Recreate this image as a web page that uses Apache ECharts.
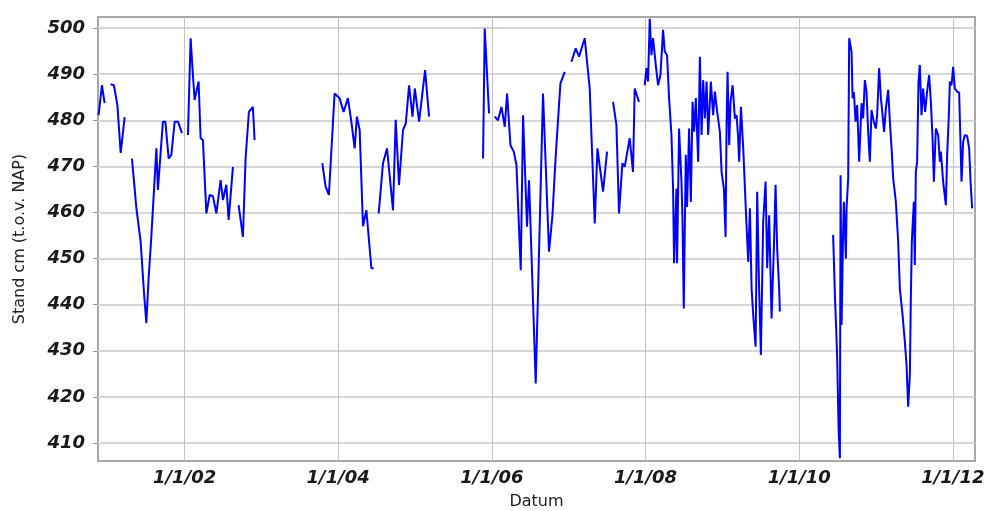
<!DOCTYPE html>
<html>
<head>
<meta charset="utf-8">
<script src="https://cdn.jsdelivr.net/npm/echarts@6/dist/echarts.min.js"></script>
<style>
  html, body { margin: 0; padding: 0; background: #fff; }
  #chart { width: 990px; height: 511px; }
</style>
</head>
<body>
<div id="chart"></div>
<script>
// datum als decimaal jaar, null = onderbreking in de reeks
const jaar = [
  2000.880, 2000.923, 2000.958, null,
  2001.036, 2001.079, 2001.124, 2001.167, 2001.219, null,
  2001.314, 2001.371, 2001.427, 2001.470, 2001.501, 2001.531, 2001.566, 2001.587, 2001.632, 2001.652,
  2001.717, 2001.749, 2001.792, 2001.827, 2001.870, 2001.913, 2001.965, null,
  2002.043, 2002.078, 2002.108, 2002.130, 2002.182, 2002.208, 2002.238, 2002.283, 2002.326, 2002.368,
  2002.413, 2002.469, 2002.499, 2002.543, 2002.573, 2002.629, null,
  2002.703, 2002.759, 2002.794, 2002.837, 2002.889, 2002.911, null,
  2003.793, 2003.836, 2003.879, 2003.953, 2004.018, 2004.070, 2004.126, 2004.171, 2004.214, 2004.243,
  2004.279, 2004.322, 2004.366, 2004.431, 2004.461, null,
  2004.526, 2004.582, 2004.634, 2004.712, 2004.747, 2004.790, 2004.842, 2004.878, 2004.921, 2004.965,
  2004.995, 2005.051, 2005.129, 2005.181, null,
  2005.884, 2005.906, 2005.962, null,
  2006.036, 2006.079, 2006.124, 2006.167, 2006.197, 2006.241, 2006.284, 2006.319, 2006.375, 2006.405,
  2006.457, 2006.483, 2006.570, 2006.665, 2006.743, 2006.788, 2006.831, 2006.892, 2006.948, null,
  2007.035, 2007.091, 2007.134, 2007.208, 2007.273, 2007.339, 2007.374, 2007.447, 2007.499, null,
  2007.577, 2007.621, 2007.655, 2007.699, 2007.729, 2007.794, 2007.837, 2007.859, 2007.915, null,
  2007.990, 2008.012, 2008.033, 2008.055, 2008.077, 2008.098, 2008.133, 2008.163, 2008.194, 2008.228,
  2008.250, 2008.280, 2008.306, 2008.337, 2008.358, 2008.371, 2008.402, 2008.410, 2008.436, 2008.467,
  2008.480, 2008.497, 2008.523, 2008.540, 2008.566, 2008.589, 2008.611, 2008.632, 2008.654, 2008.684,
  2008.706, 2008.728, 2008.749, 2008.771, 2008.793, 2008.814, 2008.849, 2008.879, 2008.901, 2008.931,
  2008.966, 2008.988, 2009.018, 2009.040, 2009.053, 2009.066, 2009.087, 2009.105, 2009.132, 2009.161,
  2009.184, 2009.204, 2009.217, 2009.240, 2009.270, 2009.305, 2009.335, 2009.357, 2009.379, 2009.400,
  2009.431, 2009.452, 2009.474, 2009.500, 2009.530, 2009.561, 2009.582, 2009.608, 2009.639, 2009.669,
  2009.691, 2009.712, 2009.738, 2009.747, null,
  2010.441, 2010.464, 2010.493, 2010.512, 2010.529, 2010.538, 2010.551, 2010.572, 2010.581, 2010.607,
  2010.616, 2010.637, 2010.650, 2010.681, 2010.694, 2010.711, 2010.733, 2010.754, 2010.780, 2010.811,
  2010.832, 2010.854, 2010.876, 2010.897, 2010.919, 2010.941, 2010.971, 2010.997, 2011.014, 2011.040,
  2011.063, 2011.085, 2011.105, 2011.128, 2011.158, 2011.180, 2011.202, 2011.223, 2011.258, 2011.288,
  2011.310, 2011.345, 2011.375, 2011.397, 2011.418, 2011.440, 2011.453, 2011.466, 2011.492, 2011.505,
  2011.518, 2011.535, 2011.553, 2011.570, 2011.592, 2011.613, 2011.639, 2011.665, 2011.691, 2011.714,
  2011.736, 2011.753, 2011.779, 2011.809, 2011.831, 2011.844, 2011.874, 2011.909, 2011.926, 2011.948,
  2011.961, 2011.983, 2012.004, 2012.026, 2012.056, 2012.082, 2012.113, 2012.134, 2012.156, 2012.186,
  2012.212, 2012.230, 2012.251
];

// stand in cm t.o.v. NAP
const stand = [
  481.1, 487.6, 483.7, null,
  487.8, 487.6, 483.3, 472.9, 480.7, null,
  471.7, 461.0, 453.7, 442.8, 436.0, 445.8, 454.7, 454.7, 473.9, 464.9,
  479.7, 479.7, 471.7, 472.5, 479.7, 479.7, 477.2, null,
  476.8, 497.8, 489.8, 484.4, 488.4, 476.1, 475.7, 459.8, 463.8, 463.6,
  459.8, 467.0, 462.7, 466.0, 458.4, 469.9, null,
  461.6, 454.7, 471.7, 481.8, 482.9, 475.7, null,
  470.7, 465.6, 463.8, 485.8, 484.8, 481.8, 484.8, 479.7, 473.9, 480.8,
  477.9, 457.0, 460.5, 447.9, 447.9, null,
  459.8, 470.7, 473.9, 460.5, 480.1, 466.0, 477.9, 479.3, 487.6, 480.8,
  486.9, 479.7, 490.9, 480.8, null,
  471.7, 499.9, 481.5, null,
  480.8, 480.0, 482.9, 478.6, 485.8, 474.6, 473.2, 470.3, 447.5, 481.1,
  456.9, 467.0, 422.9, 485.8, 451.5, 459.4, 472.5, 488.0, 490.5, null,
  492.7, 495.6, 493.8, 497.8, 486.9, 457.6, 473.9, 464.5, 473.2, null,
  484.0, 479.0, 459.8, 470.7, 469.9, 476.1, 468.8, 486.9, 484.0, null,
  487.6, 491.3, 488.4, 502.0, 494.1, 497.8, 492.0, 487.6, 489.8, 499.6,
  494.9, 494.1, 484.8, 476.8, 465.2, 449.0, 465.2, 449.0, 478.2, 466.7,
  458.7, 439.2, 472.5, 461.2, 478.2, 462.3, 484.0, 477.5, 484.8, 471.0,
  493.8, 476.8, 488.7, 480.4, 488.4, 476.8, 488.4, 481.1, 486.2, 481.8,
  477.5, 468.8, 465.2, 454.7, 479.0, 490.5, 474.6, 484.0, 487.6, 480.4,
  481.1, 476.1, 471.0, 482.9, 473.9, 460.2, 449.3, 460.9, 443.5, 437.8,
  430.9, 464.5, 445.7, 429.1, 458.0, 466.7, 447.9, 459.4, 437.0, 452.2,
  466.0, 452.2, 443.5, 438.5, null,
  455.1, 442.1, 429.1, 413.2, 406.7, 468.1, 435.6, 456.6, 462.3, 450.0,
  460.9, 467.4, 497.8, 494.9, 484.8, 486.2, 479.7, 483.3, 471.0, 483.7,
  480.4, 488.7, 486.2, 477.5, 471.0, 482.2, 479.7, 478.2, 481.1, 491.3,
  484.8, 481.1, 477.5, 482.6, 486.6, 479.7, 473.9, 467.4, 462.3, 453.7,
  443.5, 437.8, 432.0, 426.9, 417.9, 424.7, 441.4, 453.7, 462.3, 448.6,
  468.8, 471.0, 488.4, 492.0, 481.1, 486.9, 481.8, 486.2, 489.8, 484.0,
  476.1, 466.7, 478.2, 476.8, 471.0, 473.2, 466.7, 461.6, 472.5, 481.1,
  488.4, 487.6, 491.6, 486.9, 486.2, 486.0, 466.7, 475.3, 476.8, 476.6,
  473.9, 466.7, 460.9
];

const xTickYears = [2002, 2004, 2006, 2008, 2010, 2012];
const xTickLabels = ['1/1/02', '1/1/04', '1/1/06', '1/1/08', '1/1/10', '1/1/12'];
const yTicks = [410, 420, 430, 440, 450, 460, 470, 480, 490, 500];

// decimaal jaar -> timestamp
function toTime(y) {
  const Y = Math.floor(y);
  const a = Date.UTC(Y, 0, 1), b = Date.UTC(Y + 1, 0, 1);
  return a + (y - Y) * (b - a);
}

const data = [];
let last = null;
jaar.forEach((j, i) => {
  if (j === null || stand[i] === null) {
    data.push([last, null]);
  } else {
    last = toTime(j);
    data.push([last, stand[i]]);
  }
});

const xTicks = xTickYears.map(y => Date.UTC(y, 0, 1));

const labelFont = {
  fontFamily: 'DejaVu Sans',
  fontWeight: 'bold',
  fontStyle: 'italic',
  fontSize: 18,
  color: '#1a1a1a'
};

const chart = echarts.init(document.getElementById('chart'));
chart.setOption({
  animation: false,
  backgroundColor: '#fff',
  grid: {
    left: 98, right: 15, top: 17, bottom: 50,
    outerBoundsMode: 'none',
    show: true,
    borderColor: '#a8a8a8',
    borderWidth: 2,
    backgroundColor: '#fff'
  },
  xAxis: {
    // tijdstempels op een waarde-as, zodat de ticks precies op 1 januari vallen
    type: 'value',
    min: toTime(2000.872),
    max: toTime(2012.288),
    name: 'Datum',
    nameLocation: 'middle',
    nameGap: 33,
    nameTextStyle: { fontFamily: 'DejaVu Sans', fontSize: 16, color: '#222' },
    axisLine: { show: false },
    axisTick: { show: false, customValues: xTicks },
    axisLabel: Object.assign({
      customValues: xTicks,
      margin: 8,
      formatter: v => {
        const k = xTicks.indexOf(v);
        return k >= 0 ? xTickLabels[k] : '';
      }
    }, labelFont),
    splitLine: { show: true, lineStyle: { color: '#c4c4c4', width: 1 } }
  },
  yAxis: {
    type: 'value',
    min: 406.1,
    max: 502.4,
    name: 'Stand cm (t.o.v. NAP)',
    nameLocation: 'middle',
    nameRotate: 90,
    nameGap: 70,
    nameTextStyle: { fontFamily: 'DejaVu Sans', fontSize: 16, color: '#222' },
    axisLine: { show: false },
    axisTick: { show: true, length: 5, customValues: yTicks, lineStyle: { color: '#999' } },
    axisLabel: Object.assign({ customValues: yTicks, margin: 13 }, labelFont),
    splitLine: { show: true, lineStyle: { color: '#d6d6d6', width: 2 } }
  },
  series: [{
    type: 'line',
    data: data,
    showSymbol: false,
    connectNulls: false,
    lineStyle: { color: '#0000ff', width: 2 },
    clip: true
  }]
});
</script>
</body>
</html>
